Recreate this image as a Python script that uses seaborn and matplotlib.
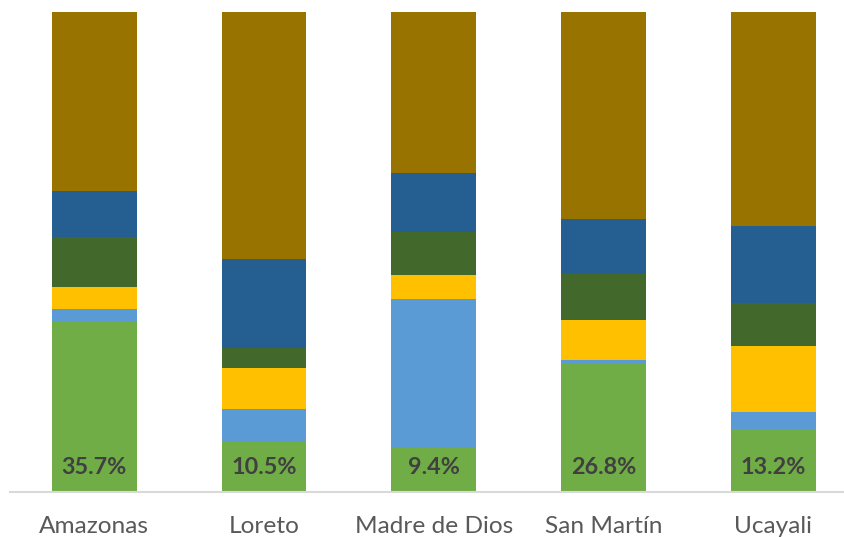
import numpy as np
import pandas as pd
import seaborn as sns
import matplotlib.pyplot as plt

# Regions and share of each component (percent, bottom to top)
regions = ["Amazonas", "Loreto", "Madre de Dios", "San Martín", "Ucayali"]
green = [35.7, 10.5, 9.4, 26.8, 13.2]
light_blue = [2.5, 6.75, 30.8, 0.8, 3.5]
yellow = [4.6, 8.5, 5.0, 8.3, 13.7]
dark_green = [10.3, 4.3, 8.9, 9.6, 9.0]
blue = [9.7, 18.4, 12.3, 11.3, 16.1]
brown = [37.2, 51.55, 33.6, 43.2, 44.5]
labels = ["35.7%", "10.5%", "9.4%", "26.8%", "13.2%"]

layers = [
    (green, "#70AD47"),
    (light_blue, "#5B9BD5"),
    (yellow, "#FFC000"),
    (dark_green, "#43682B"),
    (blue, "#255E91"),
    (brown, "#997300"),
]

sns.set_style("white")
plt.rcParams["font.family"] = ["Lato", "DejaVu Sans"]

fig = plt.figure(figsize=(8.44, 5.37), dpi=100)
ax = fig.add_axes([9.5 / 844, 45 / 537, 848.5 / 844, 480 / 537])

# Stack by drawing cumulative totals from the top layer down
cum = np.cumsum([np.array(v, dtype=float) for v, _ in layers], axis=0)
for k in range(len(layers) - 1, -1, -1):
    df = pd.DataFrame({"region": regions, "value": cum[k]})
    sns.barplot(data=df, x="region", y="value", color=layers[k][1],
                width=0.5, saturation=1, ax=ax, linewidth=0)

for i, lab in enumerate(labels):
    ax.annotate(lab, xy=(i, 0), xytext=(0, 17.5), textcoords="offset points",
                ha="center", va="center", fontsize=16.8, fontweight="bold",
                color="#404040")

ax.set_ylim(0, 100)
ax.set_xlim(-0.5, 4.5)
ax.set_xlabel("")
ax.set_ylabel("")
ax.set_yticks([])
for s in ["top", "left", "right"]:
    ax.spines[s].set_visible(False)
ax.spines["bottom"].set_color("#D9D9D9")
ax.spines["bottom"].set_linewidth(1.5)
ax.tick_params(axis="x", length=0, pad=17, labelsize=17.6, labelcolor="#595959")

fig.savefig("out.png", dpi=100)
